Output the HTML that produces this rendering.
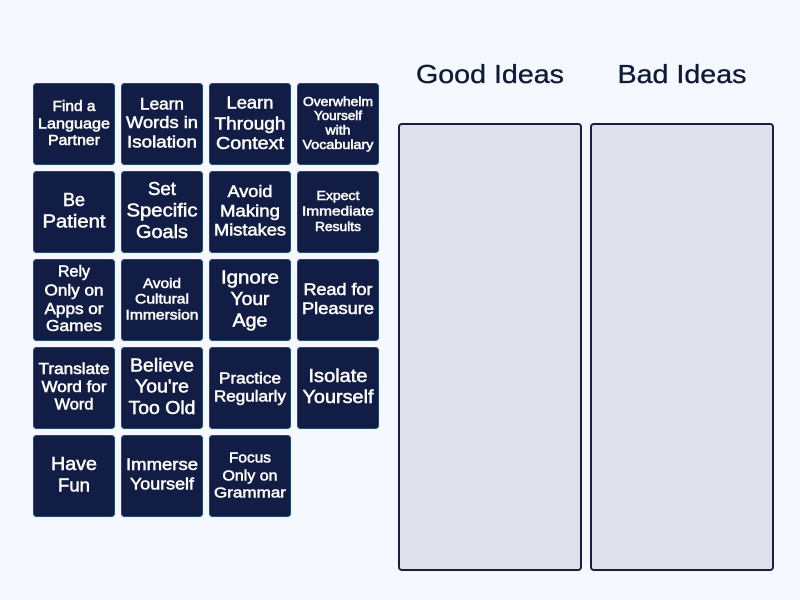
<!DOCTYPE html>
<html><head><meta charset="utf-8"><style>
html,body{margin:0;padding:0;background:#f5f8fe;width:800px;height:600px;overflow:hidden}
svg{display:block}
.t rect{fill:#121d45;stroke:#1c4a80;stroke-width:1}
.l text{font-family:"Liberation Sans",sans-serif;fill:#fff;stroke:#fff;stroke-width:.5;text-anchor:middle}
.h{font-family:"Liberation Sans",sans-serif;fill:#0e1a38;text-anchor:middle;font-size:26px;stroke:#0e1a38;stroke-width:.35}
.p{fill:#dee1ea;stroke:#171f47;stroke-width:2}
</style></head><body>
<svg width="800" height="600" viewBox="0 0 800 600" xmlns="http://www.w3.org/2000/svg">
<rect width="800" height="600" fill="#f5f8fe"/>
<g class="t">
<rect x="33.500" y="83.500" width="81" height="81" rx="3"/><rect x="121.500" y="83.500" width="81" height="81" rx="3"/><rect x="209.500" y="83.500" width="81" height="81" rx="3"/><rect x="297.500" y="83.500" width="81" height="81" rx="3"/>
<rect x="33.500" y="171.500" width="81" height="81" rx="3"/><rect x="121.500" y="171.500" width="81" height="81" rx="3"/><rect x="209.500" y="171.500" width="81" height="81" rx="3"/><rect x="297.500" y="171.500" width="81" height="81" rx="3"/>
<rect x="33.500" y="259.500" width="81" height="81" rx="3"/><rect x="121.500" y="259.500" width="81" height="81" rx="3"/><rect x="209.500" y="259.500" width="81" height="81" rx="3"/><rect x="297.500" y="259.500" width="81" height="81" rx="3"/>
<rect x="33.500" y="347.500" width="81" height="81" rx="3"/><rect x="121.500" y="347.500" width="81" height="81" rx="3"/><rect x="209.500" y="347.500" width="81" height="81" rx="3"/><rect x="297.500" y="347.500" width="81" height="81" rx="3"/>
<rect x="33.500" y="435.500" width="81" height="81" rx="3"/><rect x="121.500" y="435.500" width="81" height="81" rx="3"/><rect x="209.500" y="435.500" width="81" height="81" rx="3"/>
</g>
<g class="l">
<g font-size="14.500">
<text x="74" y="111" textLength="43" lengthAdjust="spacingAndGlyphs">Find a</text>
<text x="74" y="128.300" textLength="72" lengthAdjust="spacingAndGlyphs">Language</text>
<text x="74" y="145" textLength="52" lengthAdjust="spacingAndGlyphs">Partner</text>
</g>
<g font-size="16.500">
<text x="162" y="109.300" textLength="44" lengthAdjust="spacingAndGlyphs">Learn</text>
<text x="162" y="128" textLength="72" lengthAdjust="spacingAndGlyphs">Words in</text>
<text x="162" y="147.700" textLength="70" lengthAdjust="spacingAndGlyphs">Isolation</text>
</g>
<g font-size="17.800">
<text x="250" y="108.300" textLength="47" lengthAdjust="spacingAndGlyphs">Learn</text>
<text x="250" y="129.300" textLength="71" lengthAdjust="spacingAndGlyphs">Through</text>
<text x="250" y="149" textLength="68" lengthAdjust="spacingAndGlyphs">Context</text>
</g>
<g font-size="12.500">
<text x="338" y="106" textLength="70" lengthAdjust="spacingAndGlyphs">Overwhelm</text>
<text x="338" y="120" textLength="48" lengthAdjust="spacingAndGlyphs">Yourself</text>
<text x="338" y="134.300" textLength="25" lengthAdjust="spacingAndGlyphs">with</text>
<text x="338" y="149" textLength="71" lengthAdjust="spacingAndGlyphs">Vocabulary</text>
</g>
<g font-size="18.500">
<text x="74" y="206" textLength="22" lengthAdjust="spacingAndGlyphs">Be</text>
<text x="74" y="227.300" textLength="63" lengthAdjust="spacingAndGlyphs">Patient</text>
<text x="162" y="195" textLength="28" lengthAdjust="spacingAndGlyphs">Set</text>
<text x="162" y="216.700" textLength="71" lengthAdjust="spacingAndGlyphs">Specific</text>
<text x="162" y="238" textLength="52" lengthAdjust="spacingAndGlyphs">Goals</text>
</g>
<g font-size="16.800">
<text x="250" y="197" textLength="45" lengthAdjust="spacingAndGlyphs">Avoid</text>
<text x="250" y="216.300" textLength="60" lengthAdjust="spacingAndGlyphs">Making</text>
<text x="250" y="235.700" textLength="72" lengthAdjust="spacingAndGlyphs">Mistakes</text>
</g>
<g font-size="13.300">
<text x="338" y="200" textLength="43" lengthAdjust="spacingAndGlyphs">Expect</text>
<text x="338" y="215.300" textLength="72" lengthAdjust="spacingAndGlyphs">Immediate</text>
<text x="338" y="231" textLength="46" lengthAdjust="spacingAndGlyphs">Results</text>
</g>
<g font-size="15.400">
<text x="74" y="276.700" textLength="32" lengthAdjust="spacingAndGlyphs">Rely</text>
<text x="74" y="295.300" textLength="59" lengthAdjust="spacingAndGlyphs">Only on</text>
<text x="74" y="314" textLength="59" lengthAdjust="spacingAndGlyphs">Apps or</text>
<text x="74" y="331" textLength="56" lengthAdjust="spacingAndGlyphs">Games</text>
</g>
<g font-size="13.600">
<text x="162" y="288" textLength="38" lengthAdjust="spacingAndGlyphs">Avoid</text>
<text x="162" y="303.700" textLength="54" lengthAdjust="spacingAndGlyphs">Cultural</text>
<text x="162" y="319.700" textLength="73" lengthAdjust="spacingAndGlyphs">Immersion</text>
</g>
<g font-size="18.500">
<text x="250" y="283.300" textLength="58" lengthAdjust="spacingAndGlyphs">Ignore</text>
<text x="250" y="305" textLength="39" lengthAdjust="spacingAndGlyphs">Your</text>
<text x="250" y="326.500" textLength="35" lengthAdjust="spacingAndGlyphs">Age</text>
</g>
<g font-size="16.500">
<text x="338" y="295" textLength="69" lengthAdjust="spacingAndGlyphs">Read for</text>
<text x="338" y="314" textLength="72" lengthAdjust="spacingAndGlyphs">Pleasure</text>
</g>
<g font-size="15.300">
<text x="74" y="374" textLength="71" lengthAdjust="spacingAndGlyphs">Translate</text>
<text x="74" y="392" textLength="65" lengthAdjust="spacingAndGlyphs">Word for</text>
<text x="74" y="409.700" textLength="39" lengthAdjust="spacingAndGlyphs">Word</text>
</g>
<g font-size="18.500">
<text x="162" y="371.300" textLength="64" lengthAdjust="spacingAndGlyphs">Believe</text>
<text x="162" y="392.700" textLength="54" lengthAdjust="spacingAndGlyphs">You're</text>
<text x="162" y="414" textLength="67" lengthAdjust="spacingAndGlyphs">Too Old</text>
</g>
<g font-size="15.400">
<text x="250" y="383.300" textLength="62" lengthAdjust="spacingAndGlyphs">Practice</text>
<text x="250" y="401.300" textLength="72" lengthAdjust="spacingAndGlyphs">Regularly</text>
</g>
<g font-size="18">
<text x="338" y="382" textLength="59" lengthAdjust="spacingAndGlyphs">Isolate</text>
<text x="338" y="403" textLength="71" lengthAdjust="spacingAndGlyphs">Yourself</text>
</g>
<g font-size="18.500">
<text x="74" y="470" textLength="46" lengthAdjust="spacingAndGlyphs">Have</text>
<text x="74" y="491.300" textLength="32" lengthAdjust="spacingAndGlyphs">Fun</text>
</g>
<g font-size="16.500">
<text x="162" y="470.200" textLength="72" lengthAdjust="spacingAndGlyphs">Immerse</text>
<text x="162" y="489.700" textLength="64" lengthAdjust="spacingAndGlyphs">Yourself</text>
</g>
<g font-size="14.800">
<text x="250" y="462.700" textLength="42" lengthAdjust="spacingAndGlyphs">Focus</text>
<text x="250" y="480.300" textLength="55" lengthAdjust="spacingAndGlyphs">Only on</text>
<text x="250" y="497.700" textLength="72" lengthAdjust="spacingAndGlyphs">Grammar</text>
</g>
</g>
<text class="h" x="490" y="83" textLength="148" lengthAdjust="spacingAndGlyphs">Good Ideas</text>
<text class="h" x="682" y="83" textLength="129" lengthAdjust="spacingAndGlyphs">Bad Ideas</text>
<rect class="p" x="399" y="124" width="182" height="446" rx="3"/>
<rect class="p" x="591" y="124" width="182" height="446" rx="3"/>
</svg>
</body></html>
